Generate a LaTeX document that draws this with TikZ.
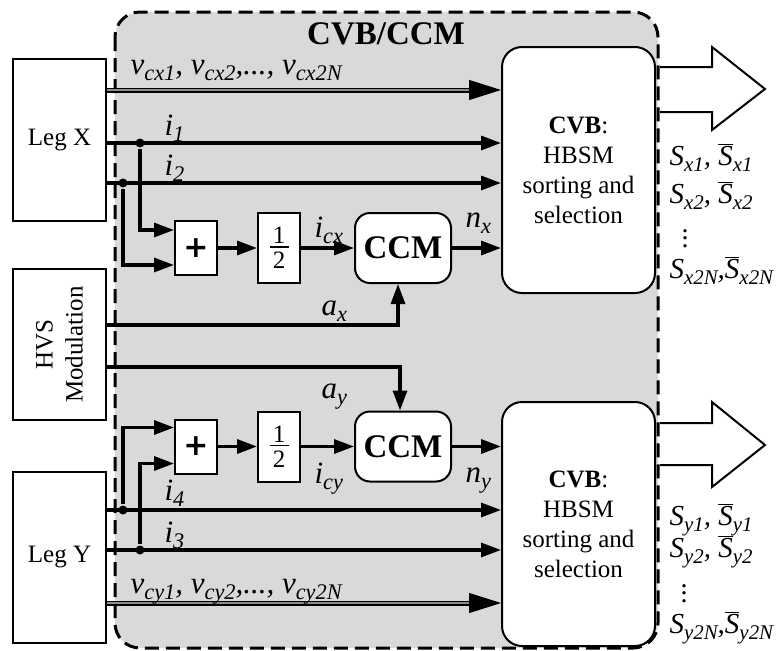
\documentclass[tikz,border=0pt]{standalone}
\usepackage{fontspec}
\usepackage{graphicx}
\setmainfont{Liberation Serif}
\newfontfamily\plusfont{DejaVu Sans}
\usetikzlibrary{arrows.meta}

\newcommand{\symsub}[2]{\textit{#1}\raisebox{-0.22em}{\scalebox{0.72}{\textit{#2}}}}
\newcommand{\symbar}[2]{$\overline{\mbox{\textit{#1}}}$\raisebox{-0.22em}{\scalebox{0.72}{\textit{#2}}}}
\newcommand{\dotcol}{\vbox{\baselineskip=7.5pt\lineskiplimit=-20pt\hbox{.}\hbox{.}\hbox{.}}}
\newcommand{\halfval}{\vbox{\hbox to 19pt{\hss 1\hss}\kern 2.5pt\hrule height 1.3pt\kern 4.5pt\hbox to 19pt{\hss 2\hss}}}

\begin{document}
\begin{tikzpicture}[x=1pt, y=-1pt, >={Triangle[length=20pt, width=14pt]},
    line width=3.2pt,
    font=\fontsize{25}{30}\selectfont,
    box/.style={draw, line width=2pt, fill=white, inner sep=0pt},
    lbl/.style={inner sep=0pt, anchor=base west, font=\fontsize{31}{36}\selectfont\itshape},
    outlbl/.style={inner sep=0pt, anchor=base west, font=\fontsize{29}{32}\selectfont\itshape},
    dbl/.style={double=black!45, double distance=2.4pt, line width=1.3pt},
    dot/.style={circle, fill, inner sep=0pt, minimum size=9pt}]
    \useasboundingbox (0,0) rectangle (777,651);

    % Frame
    \draw[fill=black!15, line width=3pt, dash pattern=on 14pt off 7pt, rounded corners=25pt]
        (115,12) rectangle (658,648);
    \node[font=\fontsize{33}{38}\selectfont\bfseries] (title) at (386,34) {CVB/CCM};

    % Legs and modulation
    \node[box, minimum width=93pt, minimum height=162pt] (legx) at (59.5,140) {Leg X};
    \node[box, minimum width=93pt, minimum height=151pt] (hvs) at (59.5,344.5) {};
    \node[rotate=90, align=center] (hvstext) at (hvs) {HVS\\Modulation};
    \node[box, minimum width=93pt, minimum height=171pt] (legy) at (59.5,557.5) {Leg Y};

    % Blocks X
    \node[box, minimum width=42pt, minimum height=54pt, font=\fontsize{30}{34}\plusfont\bfseries] (plusx) at (196,248) {+};
    \node[box, minimum width=42pt, minimum height=70pt] (halfx) at (279,248) {\halfval};
    \node[box, rounded corners=15pt, minimum width=96pt, minimum height=70pt, font=\fontsize{33}{36}\selectfont\bfseries] (ccmx) at (403,248) {CCM};
    \node[box, rounded corners=20pt, minimum width=153pt, minimum height=246pt, align=center] (cvbx) at (578.5,170)
        {\textbf{CVB}:\\HBSM\\sorting and\\selection};

    % Blocks Y
    \node[box, minimum width=42pt, minimum height=54pt, font=\fontsize{30}{34}\plusfont\bfseries] (plusy) at (196,446.5) {+};
    \node[box, minimum width=42pt, minimum height=70pt] (halfy) at (279,446.5) {\halfval};
    \node[box, rounded corners=15pt, minimum width=96pt, minimum height=70pt, font=\fontsize{33}{36}\selectfont\bfseries] (ccmy) at (403,446.5) {CCM};
    \node[box, rounded corners=20pt, minimum width=153pt, minimum height=244pt, align=center] (cvby) at (578.5,524)
        {\textbf{CVB}:\\HBSM\\sorting and\\selection};

    % Rows and junctions
    \coordinate (rvx) at (0,90);
    \coordinate (rvy) at (0,603);
    \node[dot] (jx1) at (140,143) {};
    \node[dot] (jx2) at (123,183) {};
    \node[dot] (jy4) at (123,510) {};
    \node[dot] (jy3) at (140,550) {};

    % Capacitor voltages
    \draw[dbl, shorten >=28pt] (legx.east |- rvx) -- (cvbx.west |- rvx);
    \coordinate (vxend) at (cvbx.west |- rvx);
    \draw[-{Triangle[length=32pt, width=20pt]}, line width=1pt] ([xshift=-30pt]vxend) -- (vxend);
    \draw[dbl, shorten >=28pt] (legy.east |- rvy) -- (cvby.west |- rvy);
    \coordinate (vyend) at (cvby.west |- rvy);
    \draw[-{Triangle[length=32pt, width=20pt]}, line width=1pt] ([xshift=-30pt]vyend) -- (vyend);
    \node[lbl] (vcx) at (129,74) {\symsub{v}{cx1}, \symsub{v}{cx2},..., \symsub{v}{cx2N}};
    \node[lbl] (vcy) at (129,593) {\symsub{v}{cy1}, \symsub{v}{cy2},..., \symsub{v}{cy2N}};

    % Arm currents X
    \draw[->] (legx.east |- jx1) -- (cvbx.west |- jx1);
    \draw[->] (legx.east |- jx2) -- (cvbx.west |- jx2);
    \draw[->] (jx1) |- ([yshift=18pt]plusx.west);
    \draw[->] (jx2) |- ([yshift=-17pt]plusx.west);
    \draw[->] (plusx) -- (halfx);
    \draw[->] (halfx) -- (ccmx);
    \draw[->] (ccmx.east) -- (cvbx.west |- ccmx.east);
    \node[lbl] (i1) at (163,135) {\symsub{i}{1}};
    \node[lbl] (i2) at (163,175) {\symsub{i}{2}};
    \node[lbl] (icx) at (313,237) {\symsub{i}{cx}};
    \node[lbl] (nx) at (464,227) {\symsub{n}{x}};

    % Arm currents Y
    \draw[->] (legy.east |- jy4) -- (cvby.west |- jy4);
    \draw[->] (legy.east |- jy3) -- (cvby.west |- jy3);
    \draw[->] (jy4) |- ([yshift=19pt]plusy.west);
    \draw[->] (jy3) |- ([yshift=-17pt]plusy.west);
    \draw[->] (plusy) -- (halfy);
    \draw[->] (halfy) -- (ccmy);
    \draw[->] (ccmy.east) -- (cvby.west |- ccmy.east);
    \node[lbl] (i4) at (163,500) {\symsub{i}{4}};
    \node[lbl] (i3) at (163,542) {\symsub{i}{3}};
    \node[lbl] (icy) at (313,483) {\symsub{i}{cy}};
    \node[lbl] (ny) at (464,482) {\symsub{n}{y}};

    % Modulation signals
    \coordinate (rax) at (0,325);
    \coordinate (ray) at (0,367);
    \draw[->] (hvs.east |- rax) -| ([xshift=-5pt]ccmx.south);
    \draw[->] (hvs.east |- ray) -| ([xshift=-3pt]ccmy.north);
    \node[lbl] (ax) at (320,315) {\symsub{a}{x}};
    \node[lbl] (ay) at (320,398) {\symsub{a}{y}};

    % Outputs
    \draw[line width=2pt] (660,67) -- (712,67) -- (712,47) -- (765,89) -- (712,130) -- (712,112) -- (660,112);
    \draw[line width=2pt] (660,423) -- (712,423) -- (712,402) -- (765,445) -- (712,487) -- (712,465) -- (660,465);
    \node[outlbl] (sx1) at (668,165) {\symsub{S}{x1}, \symbar{S}{x1}};
    \node[outlbl] (sx2) at (668,203) {\symsub{S}{x2}, \symbar{S}{x2}};
    \node[inner sep=0pt, anchor=south, font=\fontsize{28}{32}\selectfont] (sxd) at (685,249) {\dotcol};
    \node[outlbl] (sxn) at (668,278) {\symsub{S}{x2N},\symbar{S}{x2N}};
    \node[outlbl] (sy1) at (668,525) {\symsub{S}{y1}, \symbar{S}{y1}};
    \node[outlbl] (sy2) at (668,557) {\symsub{S}{y2}, \symbar{S}{y2}};
    \node[inner sep=0pt, anchor=south, font=\fontsize{28}{32}\selectfont] (syd) at (684,604) {\dotcol};
    \node[outlbl] (syn) at (668,633) {\symsub{S}{y2N},\symbar{S}{y2N}};
\end{tikzpicture}
\end{document}
